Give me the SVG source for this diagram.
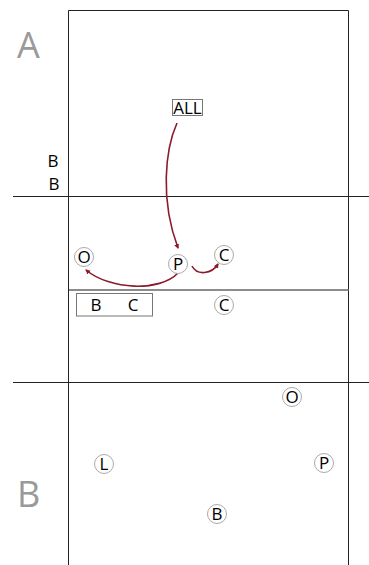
<svg xmlns="http://www.w3.org/2000/svg" width="369" height="565" viewBox="0 0 369 565">
<style>
.ln{stroke:#222;stroke-width:1;fill:none}
.mid{stroke:#666;stroke-width:1.5;fill:none}
.big{font-family:"Open Sans","Liberation Sans",sans-serif;font-size:36px;fill:#9a9a9a}
.t{font-family:"Open Sans","Liberation Sans",sans-serif;font-size:17px;fill:#000;text-anchor:middle}
.c{fill:#fff;stroke:#aaa;stroke-width:1}
.box{fill:#fff;stroke:#777;stroke-width:1}
.arr{stroke:#8b1a2c;stroke-width:1.6;fill:none;marker-end:url(#ah)}
</style>
<defs>
<marker id="ah" viewBox="0 0 10 10" refX="8" refY="5" markerWidth="5" markerHeight="5" orient="auto" markerUnits="userSpaceOnUse">
<path d="M0,0 L10,5 L0,10 z" fill="#8b1a2c"/>
</marker>
</defs>
<g id="field">
<path class="ln" d="M68.5,565 V10.5 H348.5 V565"/>
<line class="ln" x1="13" y1="196.5" x2="369" y2="196.5"/>
<line class="mid" x1="69" y1="290" x2="349" y2="290"/>
<line class="ln" x1="13" y1="382.5" x2="369" y2="382.5"/>
</g>
<text class="big" x="17" y="58">A</text>
<text class="big" x="17" y="507">B</text>
<text class="t" x="53" y="167">B</text>
<text class="t" x="54" y="190">B</text>
<g id="connectors">
<path class="arr" d="M177,123 C165,150 160,200 178,248"/>
<path class="arr" d="M178,273 C160,292 110,290 86,270"/>
<path class="arr" d="M192,266 C197,276 212,274 218,264"/>
</g>
<g id="all"><rect class="box" x="172.5" y="99.5" width="30" height="16"/><text class="t" x="187.5" y="113.5">ALL</text></g>
<g id="bc"><rect class="box" x="76.5" y="293.5" width="76" height="22.5"/><text class="t" x="96" y="311">B</text><text class="t" x="133" y="311">C</text></g>
<g id="o1"><circle class="c" cx="84" cy="257" r="9.5"/><text class="t" x="84" y="263">O</text></g>
<g id="p1"><circle class="c" cx="178" cy="264" r="9.5"/><text class="t" x="178" y="270">P</text></g>
<g id="c1"><circle class="c" cx="224" cy="255" r="9.5"/><text class="t" x="224" y="261">C</text></g>
<g id="c2"><circle class="c" cx="224" cy="305" r="9.5"/><text class="t" x="224" y="311">C</text></g>
<g id="o2"><circle class="c" cx="292" cy="397" r="9.5"/><text class="t" x="292" y="403">O</text></g>
<g id="l1"><circle class="c" cx="104" cy="464" r="9.5"/><text class="t" x="104" y="470">L</text></g>
<g id="p2"><circle class="c" cx="324" cy="463" r="9.5"/><text class="t" x="324" y="469">P</text></g>
<g id="b1"><circle class="c" cx="217" cy="514" r="9.5"/><text class="t" x="217" y="520">B</text></g>
</svg>
